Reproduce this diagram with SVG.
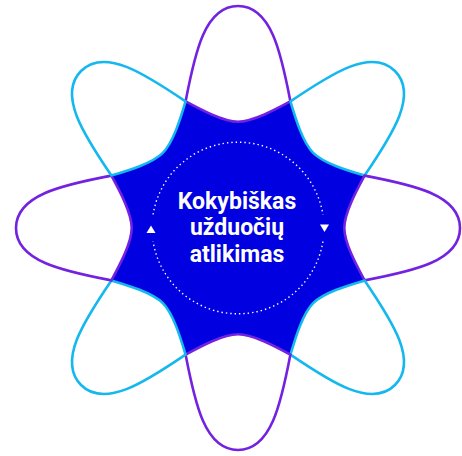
<svg xmlns="http://www.w3.org/2000/svg" xmlns:xlink="http://www.w3.org/1999/xlink" width="462" height="456" viewBox="0 0 462 456">
<style>
.pp{fill:#ffffff;stroke:#7222e0;stroke-width:2.6;stroke-linejoin:round}
.pc{fill:#ffffff;stroke:#14b8ee;stroke-width:2.6;stroke-linejoin:round}
.lbl{font-family:Roboto,"Liberation Sans",sans-serif;font-weight:bold;font-size:23px;fill:#ffffff;text-anchor:middle}
.dots{fill:none;stroke:#ffffff;stroke-width:1.4;stroke-dasharray:1.4 3}
</style>
<defs>
<path id="petal" d="M -52.4,-126.6 C -43,-176 -33,-222 0,-222 C 33,-222 43,-176 52.4,-126.6 C 37.4,-118.5 15,-106.3 0,-106.3 C -15,-106.3 -37.4,-118.5 -52.4,-126.6 Z"/>
</defs>
<g transform="translate(238,228)">
<polygon id="core" fill="#0000e0" points="-52.4,-126.6 52.4,-126.6 126.6,-52.4 126.6,52.4 52.4,126.6 -52.4,126.6 -126.6,52.4 -126.6,-52.4"/>
<g id="petal-n"><use xlink:href="#petal" href="#petal" class="pp"/></g>
<g id="petal-ne"><use xlink:href="#petal" href="#petal" class="pc" transform="rotate(45)"/></g>
<g id="petal-e"><use xlink:href="#petal" href="#petal" class="pp" transform="rotate(90)"/></g>
<g id="petal-se"><use xlink:href="#petal" href="#petal" class="pc" transform="rotate(135)"/></g>
<g id="petal-s"><use xlink:href="#petal" href="#petal" class="pp" transform="rotate(180)"/></g>
<g id="petal-sw"><use xlink:href="#petal" href="#petal" class="pc" transform="rotate(225)"/></g>
<g id="petal-w"><use xlink:href="#petal" href="#petal" class="pp" transform="rotate(270)"/></g>
<g id="petal-nw"><use xlink:href="#petal" href="#petal" class="pc" transform="rotate(315)"/></g>
</g>
<g id="connectors">
<path class="dots" d="M 153.1,214.5 A 86,86 0 0 1 322.9,214.5"/>
<path class="dots" d="M 322.9,241.5 A 86,86 0 0 1 153.1,241.5"/>
<polygon fill="#ffffff" points="151,225.5 155.5,233 146.5,233"/>
<polygon fill="#ffffff" points="320,224.5 329,224.5 324.5,232"/>
</g>
<g id="center-label">
<text class="lbl" x="237" y="208.5">Kokybiškas</text>
<text class="lbl" x="237" y="235">užduočių</text>
<text class="lbl" x="237" y="261.5">atlikimas</text>
</g>
</svg>
